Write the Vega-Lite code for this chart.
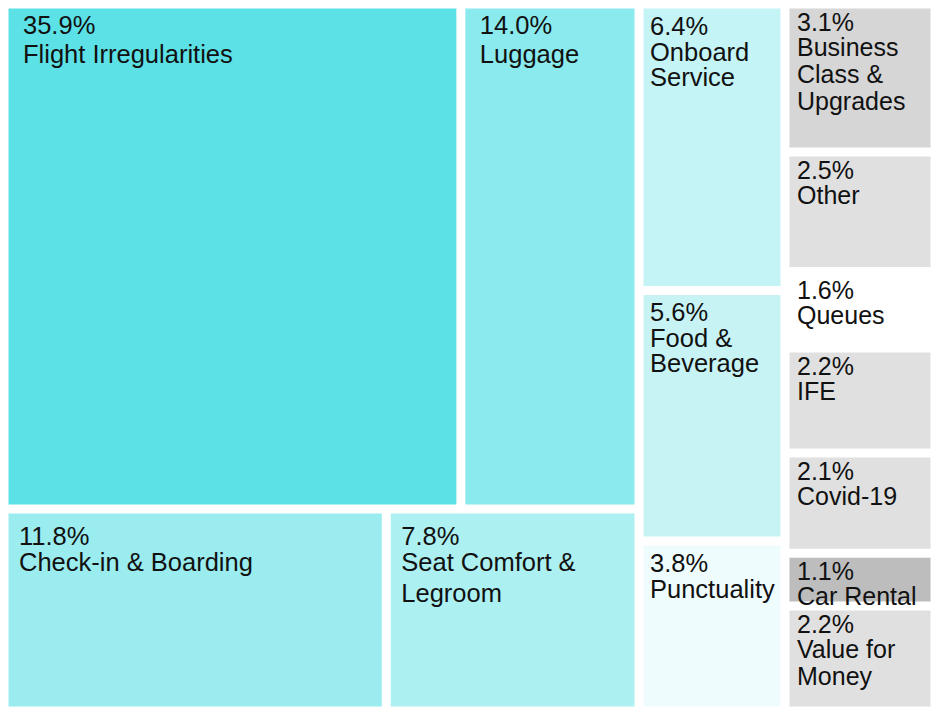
{
  "$schema": "https://vega.github.io/schema/vega-lite/v6.json",
  "padding": {"left": 4, "top": 4, "right": 6, "bottom": 9},
  "background": "white",
  "spacing": 0,
  "config": {
    "view": {"stroke": null},
    "concat": {"spacing": 0},
    "text": {"font": "Liberation Sans", "fontSize": 25.5, "color": "#111111"}
  },
  "datasets": {
    "cells": [
      {"name": "Flight Irregularities", "label": "Flight Irregularities", "share": 0.359, "group": "Atop", "rank": 1},
      {"name": "Luggage", "label": "Luggage", "share": 0.140, "group": "Atop", "rank": 2},
      {"name": "Check-in & Boarding", "label": "Check-in & Boarding", "share": 0.118, "group": "Abottom", "rank": 1},
      {"name": "Seat Comfort & Legroom", "label": "Seat Comfort &\nLegroom", "share": 0.078, "group": "Abottom", "rank": 2},
      {"name": "Onboard Service", "label": "Onboard\nService", "share": 0.064, "group": "C3", "rank": 1},
      {"name": "Food & Beverage", "label": "Food &\nBeverage", "share": 0.056, "group": "C3", "rank": 2},
      {"name": "Punctuality", "label": "Punctuality", "share": 0.038, "group": "C3", "rank": 3},
      {"name": "Business Class & Upgrades", "label": "Business\nClass &\nUpgrades", "share": 0.031, "group": "C4", "rank": 1},
      {"name": "Other", "label": "Other", "share": 0.025, "group": "C4", "rank": 2},
      {"name": "Queues", "label": "Queues", "share": 0.016, "group": "C4", "rank": 3},
      {"name": "IFE", "label": "IFE", "share": 0.022, "group": "C4", "rank": 4},
      {"name": "Covid-19", "label": "Covid-19", "share": 0.021, "group": "C4", "rank": 5},
      {"name": "Car Rental", "label": "Car Rental", "share": 0.011, "group": "C4", "rank": 6},
      {"name": "Value for Money", "label": "Value for\nMoney", "share": 0.022, "group": "C4", "rank": 7}
    ]
  },
  "data": {"name": "cells"},
  "hconcat": [
    {
      "spacing": 0,
      "vconcat": [
        {
          "width": 635, "height": 505,
          "transform": [
            {"filter": {"field": "group", "equal": "Atop"}},
            {"stack": "share", "groupby": [], "sort": [{"field": "rank", "order": "ascending"}], "offset": "normalize", "as": ["s0", "s1"]}
          ],
          "layer": [
            {
              "mark": {"type": "rect", "xOffset": 4.5, "x2Offset": -4.5, "yOffset": 4.5, "y2Offset": -4.5},
              "encoding": {
                "x": {"field": "s0", "type": "quantitative", "scale": {"domain": [0, 1]}, "axis": null},
                "x2": {"field": "s1"},
                "y": {"datum": 1, "type": "quantitative", "scale": {"domain": [0, 1]}, "axis": null},
                "y2": {"datum": 0},
                "color": {"field": "name", "type": "nominal", "legend": null,
                  "scale": {
                    "domain": ["Flight Irregularities", "Luggage", "Check-in & Boarding", "Seat Comfort & Legroom", "Onboard Service", "Food & Beverage", "Punctuality", "Business Class & Upgrades", "Other", "Queues", "IFE", "Covid-19", "Car Rental", "Value for Money"],
                    "range": ["#5ce1e6", "#8aeaee", "#9aecef", "#adf0f1", "#c4f4f6", "#c8f3f5", "#effcfd", "#d6d6d6", "#e0e0e0", "#ffffff", "#e0e0e0", "#e0e0e0", "#bdbdbd", "#e0e0e0"]
                  }
                }
              }
            },
            {
              "mark": {"type": "text", "align": "left", "baseline": "alphabetic", "dx": 19, "dy": 30},
              "encoding": {
                "x": {"field": "s0", "type": "quantitative"},
                "y": {"datum": 1, "type": "quantitative"},
                "text": {"field": "share", "type": "quantitative", "format": ".1%"}
              }
            },
            {
              "mark": {"type": "text", "align": "left", "baseline": "alphabetic", "dx": 19, "dy": 59, "lineBreak": "\n", "lineHeight": 30},
              "encoding": {
                "x": {"field": "s0", "type": "quantitative"},
                "y": {"datum": 1, "type": "quantitative"},
                "text": {"field": "label", "type": "nominal"}
              }
            }
          ]
        },
        {
          "width": 635, "height": 202,
          "transform": [
            {"filter": {"field": "group", "equal": "Abottom"}},
            {"stack": "share", "groupby": [], "sort": [{"field": "rank", "order": "ascending"}], "offset": "normalize", "as": ["s0", "s1"]}
          ],
          "layer": [
            {
              "mark": {"type": "rect", "xOffset": 4.5, "x2Offset": -4.5, "yOffset": 4.5, "y2Offset": -4.5},
              "encoding": {
                "x": {"field": "s0", "type": "quantitative", "scale": {"domain": [0, 1]}, "axis": null},
                "x2": {"field": "s1"},
                "y": {"datum": 1, "type": "quantitative", "scale": {"domain": [0, 1]}, "axis": null},
                "y2": {"datum": 0},
                "color": {"field": "name", "type": "nominal", "legend": null}
              }
            },
            {
              "mark": {"type": "text", "align": "left", "baseline": "alphabetic", "dx": 15, "dy": 36},
              "encoding": {
                "x": {"field": "s0", "type": "quantitative"},
                "y": {"datum": 1, "type": "quantitative"},
                "text": {"field": "share", "type": "quantitative", "format": ".1%"}
              }
            },
            {
              "mark": {"type": "text", "align": "left", "baseline": "alphabetic", "dx": 15, "dy": 62, "lineBreak": "\n", "lineHeight": 31},
              "encoding": {
                "x": {"field": "s0", "type": "quantitative"},
                "y": {"datum": 1, "type": "quantitative"},
                "text": {"field": "label", "type": "nominal"}
              }
            }
          ]
        }
      ]
    },
    {
      "width": 146, "height": 707,
      "transform": [
        {"filter": {"field": "group", "equal": "C3"}},
        {"stack": "share", "groupby": [], "sort": [{"field": "rank", "order": "ascending"}], "offset": "normalize", "as": ["s0", "s1"]}
      ],
      "layer": [
        {
          "mark": {"type": "rect", "xOffset": 4.5, "x2Offset": -4.5, "yOffset": 4.5, "y2Offset": -4.5},
          "encoding": {
            "y": {"field": "s0", "type": "quantitative", "scale": {"domain": [0, 1], "reverse": true}, "axis": null},
            "y2": {"field": "s1"},
            "x": {"datum": 0, "type": "quantitative", "scale": {"domain": [0, 1]}, "axis": null},
            "x2": {"datum": 1},
            "color": {"field": "name", "type": "nominal", "legend": null}
          }
        },
        {
          "mark": {"type": "text", "align": "left", "baseline": "alphabetic", "dx": 11, "dy": 31},
          "encoding": {
            "y": {"field": "s0", "type": "quantitative"},
            "x": {"datum": 0, "type": "quantitative"},
            "text": {"field": "share", "type": "quantitative", "format": ".1%"}
          }
        },
        {
          "mark": {"type": "text", "align": "left", "baseline": "alphabetic", "dx": 11, "dy": 57, "lineBreak": "\n", "lineHeight": 25},
          "encoding": {
            "y": {"field": "s0", "type": "quantitative"},
            "x": {"datum": 0, "type": "quantitative"},
            "text": {"field": "label", "type": "nominal"}
          }
        }
      ]
    },
    {
      "width": 150, "height": 707,
      "transform": [
        {"filter": {"field": "group", "equal": "C4"}},
        {"stack": "share", "groupby": [], "sort": [{"field": "rank", "order": "ascending"}], "offset": "normalize", "as": ["s0", "s1"]}
      ],
      "layer": [
        {
          "mark": {"type": "rect", "xOffset": 4.5, "x2Offset": -4.5, "yOffset": 4.5, "y2Offset": -4.5},
          "encoding": {
            "y": {"field": "s0", "type": "quantitative", "scale": {"domain": [0, 1], "reverse": true}, "axis": null},
            "y2": {"field": "s1"},
            "x": {"datum": 0, "type": "quantitative", "scale": {"domain": [0, 1]}, "axis": null},
            "x2": {"datum": 1},
            "color": {"field": "name", "type": "nominal", "legend": null}
          }
        },
        {
          "mark": {"type": "text", "align": "left", "baseline": "alphabetic", "dx": 12, "dy": 27, "fontSize": 25},
          "encoding": {
            "y": {"field": "s0", "type": "quantitative"},
            "x": {"datum": 0, "type": "quantitative"},
            "text": {"field": "share", "type": "quantitative", "format": ".1%"}
          }
        },
        {
          "mark": {"type": "text", "align": "left", "baseline": "alphabetic", "dx": 12, "dy": 52, "lineBreak": "\n", "lineHeight": 27, "fontSize": 25},
          "encoding": {
            "y": {"field": "s0", "type": "quantitative"},
            "x": {"datum": 0, "type": "quantitative"},
            "text": {"field": "label", "type": "nominal"}
          }
        }
      ]
    }
  ]
}
